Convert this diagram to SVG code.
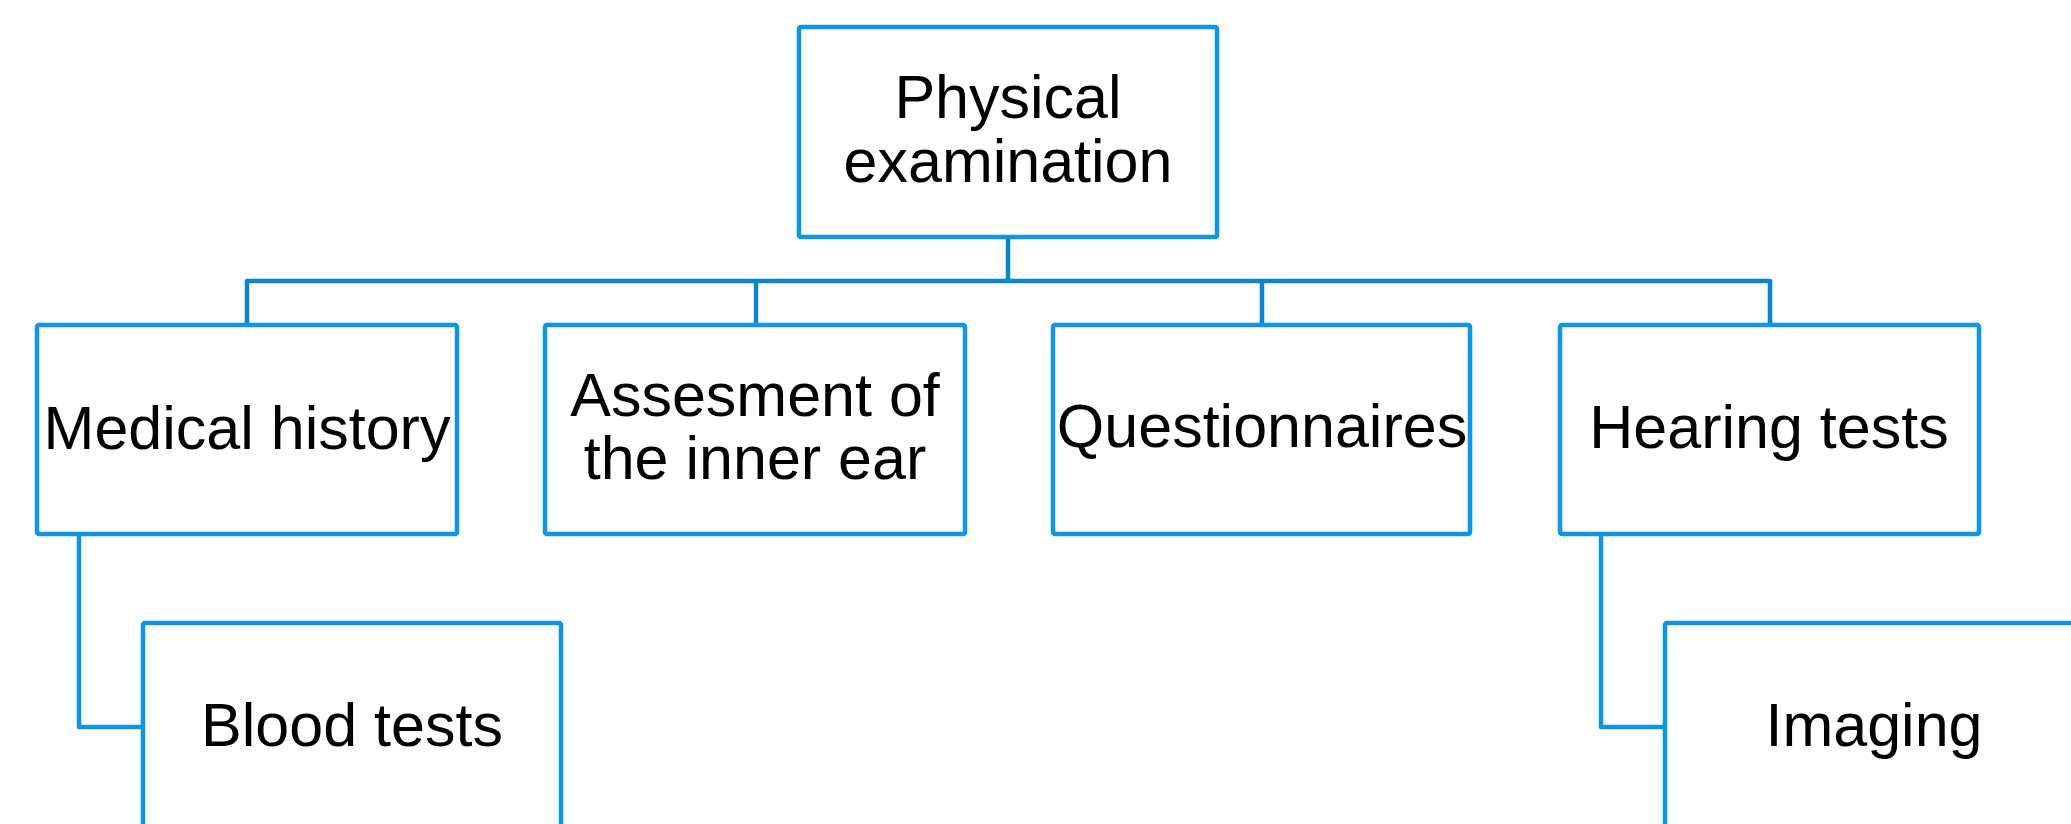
<svg xmlns="http://www.w3.org/2000/svg" width="2071" height="824" viewBox="0 0 2071 824">
  <style>
    .box { fill: #ffffff; stroke: #0E95E3; stroke-width: 4.5; }
    .conn { fill: none; stroke: #0A84CF; stroke-width: 4.5; stroke-linejoin: round; }
    .conn2 { fill: none; stroke: #0E95E3; stroke-width: 4.5; stroke-linejoin: round; }
    .lbl { font-family: "Liberation Sans", Arial, sans-serif; font-size: 61px; fill: #000000; text-anchor: middle; }
  </style>
  <rect width="2071" height="824" fill="#ffffff"/>
  <g id="connectors">
    <path class="conn" d="M1008,237 V281"/>
    <path class="conn" d="M247,325 V281 H1770 V325"/>
    <path class="conn" d="M756,281 V325"/>
    <path class="conn" d="M1262,281 V325"/>
    <path class="conn2" d="M79,534 V727 H143"/>
    <path class="conn2" d="M1601,534 V727 H1665"/>
  </g>
  <g id="physical-examination">
    <rect class="box" x="799" y="27" width="418" height="210" rx="2"/>
    <text class="lbl" x="1008" y="118">Physical</text>
    <text class="lbl" x="1008" y="182">examination</text>
  </g>
  <g id="medical-history">
    <rect class="box" x="37" y="325" width="420" height="209" rx="2"/>
    <text class="lbl" x="247" y="449">Medical history</text>
  </g>
  <g id="assesment-inner-ear">
    <rect class="box" x="545" y="325" width="420" height="209" rx="2"/>
    <text class="lbl" x="755" y="416">Assesment of</text>
    <text class="lbl" x="755" y="479">the inner ear</text>
  </g>
  <g id="questionnaires">
    <rect class="box" x="1053" y="325" width="417" height="209" rx="2"/>
    <text class="lbl" x="1262" y="447">Questionnaires</text>
  </g>
  <g id="hearing-tests">
    <rect class="box" x="1560" y="325" width="419" height="209" rx="2"/>
    <text class="lbl" x="1769" y="448">Hearing tests</text>
  </g>
  <g id="blood-tests">
    <rect class="box" x="143" y="623" width="418" height="209" rx="2"/>
    <text class="lbl" x="352" y="746">Blood tests</text>
  </g>
  <g id="imaging">
    <rect class="box" x="1665" y="623" width="418" height="209" rx="2"/>
    <text class="lbl" x="1874" y="746">Imaging</text>
  </g>
</svg>
